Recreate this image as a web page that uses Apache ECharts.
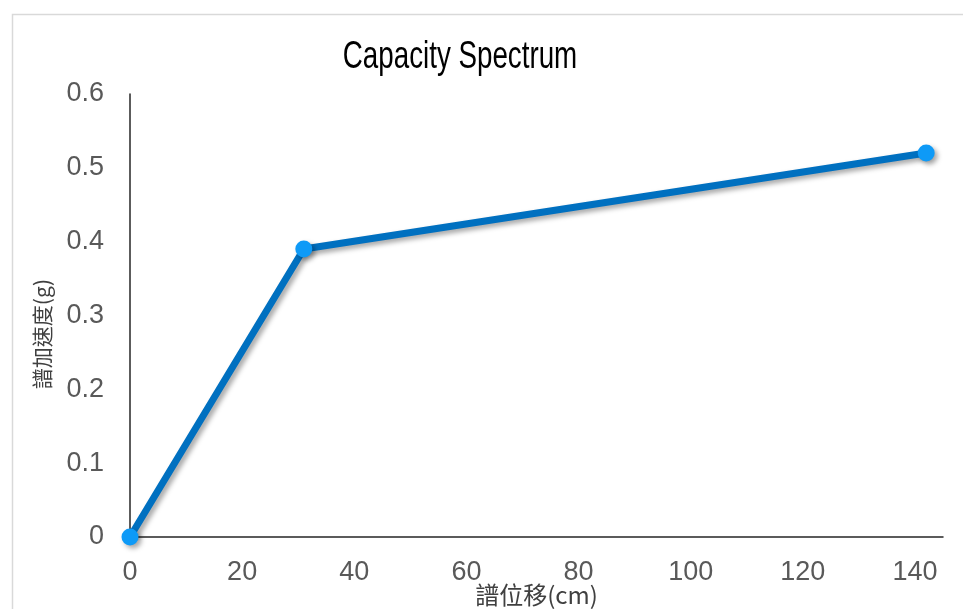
<!DOCTYPE html>
<html>
<head>
<meta charset="utf-8">
<script src="https://cdn.jsdelivr.net/npm/echarts@6/dist/echarts.min.js"></script>
<style>
  html, body { margin: 0; padding: 0; background: #fff; }
  #chart { width: 963px; height: 609px; }
</style>
</head>
<body>
<div id="chart"></div>
<script>
// Capacity curve: spectral displacement (cm) vs spectral acceleration (g)
const titleText = 'Capacity Spectrum';
const xName = '譜位移(cm)';
const yName = '譜加速度(g)';
const displacement = [0, 31, 142];
const acceleration = [0, 0.39, 0.52];
const xTicks = [0, 20, 40, 60, 80, 100, 120, 140];
const yTicks = [0, 0.1, 0.2, 0.3, 0.4, 0.5, 0.6];

const numFont = '"Liberation Sans", Arial, sans-serif';
const cjkFont = '"Noto Sans CJK TC", "Noto Sans CJK SC", sans-serif';

const chart = echarts.init(document.getElementById('chart'), null, { renderer: 'canvas' });

chart.setOption({
  backgroundColor: '#ffffff',
  animation: false,
  grid: { left: 130, top: 94, right: 20, bottom: 72, outerBoundsMode: 'none', containLabel: false },
  graphic: [
    {
      type: 'rect',
      shape: { x: 12.5, y: 14.5, width: 1000, height: 700 },
      style: { fill: 'none', stroke: '#D9D9D9', lineWidth: 1.5 },
      silent: true
    },
    {
      type: 'text',
      x: 460, y: 58,
      scaleX: 0.73,
      style: {
        text: titleText,
        font: '38px "Liberation Sans", Arial, sans-serif',
        fill: '#000000',
        textAlign: 'center',
        textVerticalAlign: 'middle'
      }
    },
    {
      type: 'text',
      x: 42, y: 334,
      rotation: Math.PI / 2,
      style: {
        text: yName,
        font: '21px ' + cjkFont,
        fill: '#404040',
        textAlign: 'center',
        textVerticalAlign: 'middle'
      }
    }
  ],
  xAxis: {
    type: 'value',
    min: xTicks[0],
    max: 145,
    interval: xTicks[1] - xTicks[0],
    name: xName,
    nameLocation: 'middle',
    nameGap: 46,
    nameMoveOverlap: false,
    nameTextStyle: { fontFamily: cjkFont, fontSize: 24, color: '#404040' },
    axisLine: { show: true, lineStyle: { color: '#262626', width: 1.5 } },
    axisTick: { show: false },
    splitLine: { show: false },
    axisLabel: {
      showMaxLabel: false,
      margin: 22,
      fontFamily: numFont, fontSize: 27, color: '#595959',
      formatter: v => String(v)
    }
  },
  yAxis: {
    type: 'value',
    min: yTicks[0],
    max: yTicks[yTicks.length - 1],
    interval: 0.1,
    axisLine: { show: true, lineStyle: { color: '#262626', width: 1.5 } },
    axisTick: { show: false },
    splitLine: { show: false },
    axisLabel: {
      margin: 26,
      fontFamily: numFont, fontSize: 27, color: '#595959',
      formatter: v => (v === 0 ? '0' : v.toFixed(1))
    }
  },
  series: [
    {
      type: 'line',
      data: displacement.map((x, i) => [x, acceleration[i]]),
      symbol: 'circle',
      symbolSize: 17,
      showAllSymbol: true,
      lineStyle: {
        color: '#0070C0', width: 7,
        shadowColor: 'rgba(0,0,0,0.35)', shadowBlur: 5, shadowOffsetX: 3, shadowOffsetY: 3
      },
      itemStyle: {
        color: '#0E9AF7',
        shadowColor: 'rgba(0,0,0,0.35)', shadowBlur: 5, shadowOffsetX: 3, shadowOffsetY: 3
      },
      z: 3
    }
  ]
});
</script>
</body>
</html>
